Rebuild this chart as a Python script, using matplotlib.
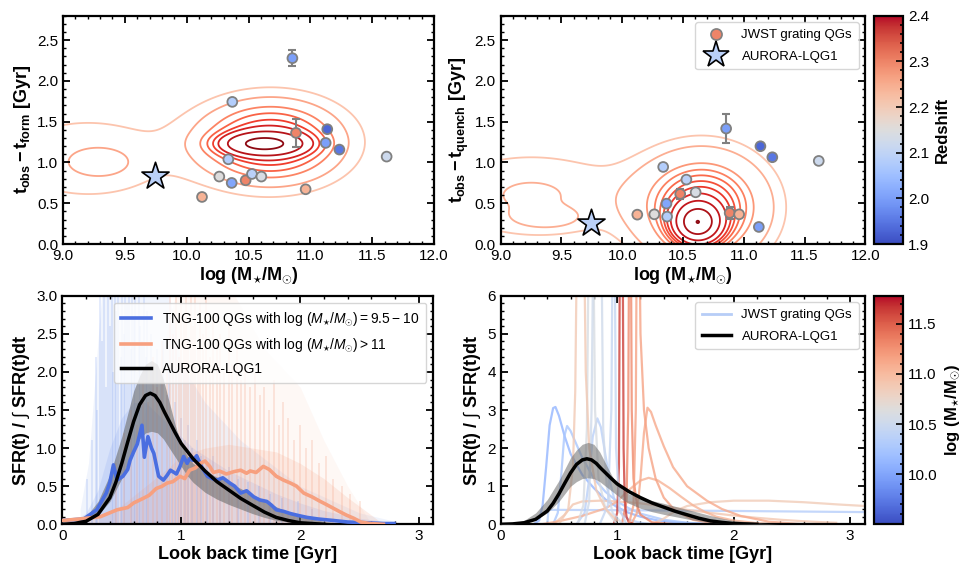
import numpy as np
import matplotlib
matplotlib.use('Agg')
import matplotlib.pyplot as plt
from matplotlib.ticker import MultipleLocator
from matplotlib.lines import Line2D
from matplotlib.colors import Normalize

plt.rcParams['font.family'] = ['Liberation Sans', 'DejaVu Sans']
plt.rcParams['mathtext.fontset'] = 'custom'
plt.rcParams['mathtext.rm'] = 'Liberation Sans'
plt.rcParams['mathtext.it'] = 'Liberation Sans:italic'
plt.rcParams['mathtext.bf'] = 'Liberation Sans:bold'
plt.rcParams['axes.linewidth'] = 1.6

# ---------------- data: JWST grating QGs ----------------
logmass = [10.855, 10.369, 10.884, 11.137, 11.124, 11.235, 11.617, 10.337,
           10.264, 10.364, 10.477, 10.528, 10.604, 10.962, 10.124]
redshift = [2.00, 2.08, 2.30, 1.93, 2.00, 1.95, 2.12, 2.08,
            2.15, 2.01, 2.30, 2.09, 2.14, 2.24, 2.24]
t_form = [2.279, 1.743, 1.363, 1.408, 1.240, 1.158, 1.072, 1.039,
          0.827, 0.749, 0.781, 0.859, 0.827, 0.671, 0.577]
t_form_err = [0.10, 0.0, 0.17, 0.0, 0.0, 0.0, 0.0, 0.0,
              0.0, 0.0, 0.0, 0.0, 0.0, 0.0, 0.0]
t_quench = [1.416, 0.336, 0.381, 1.199, 0.209, 1.064, 1.019, 0.945,
            0.364, 0.495, 0.614, 0.790, 0.634, 0.364, 0.360]
t_quench_err = [0.18, 0.0, 0.07, 0.0, 0.0, 0.0, 0.0, 0.04,
                0.0, 0.0, 0.06, 0.0, 0.0, 0.0, 0.0]

# AURORA-LQG1
aurora_logmass = 9.74
aurora_z = 2.09
aurora_t_form, aurora_t_form_err = 0.83, 0.05
aurora_t_quench, aurora_t_quench_err = 0.26, 0.03

# TNG-100 density (Gaussian mixture): cx, cy, sx, sy, weight
tng_form_blobs = [(10.62, 1.23, 0.20, 0.085, 1.00),
                  (10.68, 1.25, 0.34, 0.30, 0.50),
                  (9.30, 1.00, 0.16, 0.115, 0.09),
                  (9.20, 1.05, 0.55, 0.42, 0.07)]
tng_quench_blobs = [(10.62, 0.26, 0.12, 0.16, 1.00),
                    (10.66, 0.45, 0.33, 0.42, 0.45),
                    (9.38, 0.31, 0.18, 0.085, 0.07),
                    (9.25, 0.60, 0.60, 0.40, 0.10)]
# contour levels: density at these read-off points (x = 10.62)
form_level_y = [1.30, 1.38, 1.45, 1.52, 1.60, 1.68, 1.80, 1.92]
quench_level_y = [0.43, 0.53, 0.62, 0.70, 0.77, 0.84, 0.91, 0.99, 1.20, 1.33]
level_x = 10.62

# ---------------- data: SFHs ----------------
aurora_t = [0.0, 0.1, 0.2, 0.3, 0.4, 0.45, 0.5, 0.55, 0.6, 0.65, 0.7, 0.74, 0.78,
            0.82, 0.86, 0.9, 0.95, 1.0, 1.1, 1.2, 1.3, 1.4, 1.5, 1.6, 1.7, 1.8, 1.9, 2.0, 2.2]
aurora_sfh = [0.0, 0.01, 0.04, 0.13, 0.35, 0.55, 0.8, 1.08, 1.35, 1.57, 1.69, 1.72, 1.69,
              1.6, 1.47, 1.35, 1.2, 1.06, 0.86, 0.7, 0.56, 0.45, 0.34, 0.25, 0.16, 0.09, 0.05, 0.02, 0.0]
band_t = [0.0, 0.1, 0.2, 0.3, 0.4, 0.5, 0.55, 0.6, 0.65, 0.7, 0.75, 0.8, 0.85, 0.9, 0.95,
          1.0, 1.05, 1.1, 1.2, 1.3, 1.4, 1.5, 1.6, 1.7, 1.8, 1.9, 2.0, 2.2, 2.4]
band_hi = [0.01, 0.03, 0.1, 0.3, 0.65, 1.15, 1.45, 1.75, 1.95, 2.1, 2.15, 2.1, 1.9, 1.6, 1.3,
           1.05, 0.9, 0.8, 0.7, 0.62, 0.55, 0.47, 0.39, 0.31, 0.23, 0.16, 0.1, 0.04, 0.0]
band_lo = [0.0, 0.01, 0.04, 0.12, 0.3, 0.6, 0.8, 1.0, 1.12, 1.2, 1.22, 1.2, 1.12, 1.0, 0.88,
           0.76, 0.64, 0.55, 0.42, 0.33, 0.26, 0.2, 0.14, 0.09, 0.05, 0.03, 0.01, 0.0, 0.0]

tng_low_t = [0.0, 0.18, 0.29, 0.37, 0.40, 0.43, 0.46, 0.51, 0.55, 0.57, 0.60, 0.63, 0.67,
             0.69, 0.72, 0.75, 0.77, 0.81, 0.85, 0.88, 0.91, 0.96, 0.99, 1.02, 1.05, 1.07,
             1.10, 1.13, 1.17, 1.22, 1.26, 1.30, 1.35, 1.41, 1.45, 1.50, 1.55, 1.61, 1.66,
             1.72, 1.76, 1.80, 1.86, 1.92, 2.00, 2.06, 2.15, 2.28, 2.40, 2.56, 2.70, 2.79]
tng_low = [0.05, 0.07, 0.19, 0.41, 0.55, 0.78, 0.58, 0.63, 0.72, 0.84, 0.95, 1.05, 1.30,
           0.88, 1.15, 1.00, 0.93, 0.63, 0.58, 0.64, 0.71, 0.66, 0.76, 0.89, 0.80, 0.86,
           0.84, 0.90, 0.76, 0.63, 0.60, 0.58, 0.61, 0.54, 0.50, 0.41, 0.44, 0.36, 0.32,
           0.30, 0.25, 0.19, 0.17, 0.14, 0.11, 0.09, 0.07, 0.05, 0.03, 0.02, 0.01, 0.01]
tng_high_t = [0.0, 0.15, 0.32, 0.46, 0.55, 0.60, 0.68, 0.73, 0.79, 0.84, 0.88, 0.93, 0.99,
              1.03, 1.07, 1.12, 1.16, 1.20, 1.24, 1.27, 1.32, 1.38, 1.44, 1.50, 1.55, 1.58,
              1.63, 1.69, 1.74, 1.80, 1.86, 1.92, 1.97, 2.03, 2.10, 2.17, 2.22, 2.28, 2.34,
              2.39, 2.45, 2.51, 2.59, 2.70]
tng_high = [0.05, 0.07, 0.10, 0.19, 0.22, 0.28, 0.34, 0.38, 0.47, 0.50, 0.54, 0.56, 0.63,
            0.60, 0.71, 0.74, 0.80, 0.83, 0.76, 0.68, 0.70, 0.66, 0.69, 0.71, 0.67, 0.70,
            0.68, 0.76, 0.72, 0.63, 0.58, 0.54, 0.50, 0.41, 0.36, 0.30, 0.26, 0.21, 0.16,
            0.12, 0.08, 0.03, 0.01, 0.0]

# dense part of the individual TNG histories
dense_low_t = [0.0, 0.1, 0.2, 0.3, 0.4, 0.5, 0.6, 0.7, 0.8, 0.9, 1.0, 1.1, 1.2, 1.4, 1.6,
               1.8, 2.0, 2.2, 2.5, 2.8, 2.9]
dense_low = [0.03, 0.05, 0.15, 0.45, 1.0, 1.4, 1.6, 1.6, 1.45, 1.3, 1.15, 1.0, 0.9, 0.7, 0.55,
             0.4, 0.28, 0.18, 0.08, 0.02, 0.0]
dense_high_t = [0.0, 0.3, 0.5, 0.7, 0.9, 1.0, 1.2, 1.4, 1.6, 1.8, 2.0, 2.2, 2.4, 2.6, 2.7]
dense_high = [0.03, 0.08, 0.25, 0.5, 0.75, 0.9, 1.0, 1.05, 1.0, 0.95, 0.8, 0.6, 0.35, 0.12, 0.0]
# outer reach of the individual TNG histories
reach_low_t = [0.15, 0.22, 0.28, 0.33, 0.90, 1.00, 1.20, 1.50, 2.00, 2.50, 2.90]
reach_low = [0.2, 0.8, 2.0, 3.0, 3.0, 2.1, 1.6, 1.1, 0.5, 0.15, 0.0]
reach_high_t = [0.40, 0.60, 0.80, 0.95, 1.45, 1.70, 2.00, 2.20, 2.40, 2.60]
reach_high = [0.3, 1.0, 2.0, 3.0, 3.0, 2.3, 1.8, 1.1, 0.5, 0.0]
# bursts of individual TNG histories (spikes)
spike_low_t = [0.21, 0.25, 0.28, 0.295, 0.32, 0.335, 0.35, 0.37, 0.385, 0.40, 0.415, 0.43,
               0.445, 0.455, 0.47, 0.49, 0.50, 0.515, 0.53, 0.545, 0.56, 0.575, 0.585, 0.60,
               0.615, 0.63, 0.645, 0.655, 0.67, 0.685, 0.70, 0.715, 0.73, 0.745, 0.76, 0.78,
               0.795, 0.81, 0.83, 0.845, 0.86, 0.88, 0.90, 0.925, 0.95, 0.975, 1.00, 1.03,
               1.06, 1.09, 1.13, 1.17, 1.22, 1.27, 1.33, 1.40, 1.48, 1.56, 1.65, 1.75, 1.85,
               1.98, 2.10]
spike_low = [0.6, 1.1, 2.2, 1.5, 3.1, 2.4, 3.1, 1.8, 3.1, 2.6, 3.1, 2.0, 3.1, 2.8, 3.1,
             2.2, 3.1, 2.5, 3.1, 2.9, 3.1, 2.3, 3.1, 2.7, 3.1, 2.0, 3.1, 2.6, 2.4, 3.1, 2.2,
             2.8, 1.9, 2.5, 2.1, 1.7, 2.3, 1.6, 1.9, 2.4, 1.5, 1.7, 2.1, 1.3, 1.6, 1.2, 1.4,
             1.1, 1.3, 1.0, 1.1, 0.9, 0.8, 0.9, 0.7, 0.75, 0.6, 0.55, 0.5, 0.4, 0.35, 0.3,
             0.2]
spike_high_t = [0.45, 0.52, 0.58, 0.63, 0.68, 0.72, 0.76, 0.80, 0.84, 0.88, 0.905, 0.93,
                0.96, 0.985, 1.00, 1.02, 1.04, 1.06, 1.08, 1.10, 1.12, 1.14, 1.16, 1.18, 1.21,
                1.24, 1.27, 1.30, 1.33, 1.36, 1.40, 1.43, 1.47, 1.50, 1.54, 1.58, 1.62, 1.66,
                1.70, 1.74, 1.78, 1.82, 1.86, 1.90, 1.95, 2.00, 2.05, 2.10, 2.16, 2.22, 2.28,
                2.35, 2.42, 2.50]
spike_high = [0.8, 1.2, 1.5, 1.3, 1.9, 1.6, 2.2, 1.8, 2.4, 2.0, 3.1, 2.5, 3.1, 2.2, 3.1,
              2.7, 3.1, 2.4, 3.1, 2.6, 3.1, 2.3, 2.9, 2.5, 3.1, 2.2, 2.7, 2.4, 2.5, 2.0, 2.6,
              2.1, 2.3, 1.9, 2.1, 1.8, 2.0, 1.7, 1.8, 1.5, 1.9, 1.3, 1.6, 1.4, 1.1, 1.3, 1.0,
              1.1, 0.8, 0.9, 0.6, 0.5, 0.4, 0.3]

# JWST grating QG SFHs (right panel): stellar mass, times, SFR
jwst_sfh_logmass = [10.12, 10.26, 10.37, 10.34, 10.86, 10.90, 11.05, 11.12,
                    11.30, 11.62, 11.15, 10.60, 10.53, 10.45, 10.88]
jwst_sfh_t = [
    [0.28, 0.33, 0.36, 0.39, 0.42, 0.45, 0.47, 0.50, 0.55, 0.60, 0.70, 0.80, 0.90, 1.00, 1.10, 1.20, 1.35, 1.50, 1.70, 2.00],
    [0.45, 0.49, 0.52, 0.545, 0.57, 0.60, 0.65, 0.70, 0.80, 0.90, 1.00, 1.10, 1.20, 1.40, 1.60, 1.80],
    [0.65, 0.72, 0.76, 0.79, 0.83, 0.86, 0.90, 0.94, 0.98, 1.03, 1.10, 1.20, 1.30],
    [0.0, 0.40, 0.41, 1.0, 2.0, 3.13],
    [1.30, 1.40, 1.50, 1.60, 1.80, 2.00, 2.30, 2.60, 2.90, 3.13],
    [0.45, 0.55, 0.62, 0.70, 0.85, 1.00, 1.20, 1.40, 1.60, 1.80, 2.00, 2.20, 2.40, 2.60, 2.80, 2.88],
    [0.35, 0.50, 0.70, 0.90, 1.00, 1.10, 1.20, 1.27, 1.35, 1.45, 1.55, 1.65, 1.75, 1.85, 2.00, 2.20, 2.40],
    [1.12, 1.17, 1.20, 1.23, 1.26, 1.29, 1.33, 1.40, 1.48, 1.60, 1.77, 1.90, 2.06, 2.30, 2.60],
    [1.04, 1.08, 1.095, 1.105, 1.115, 1.125, 1.14, 1.17, 1.20, 1.30, 1.50],
    [0.97, 1.00, 1.015, 1.025, 1.045, 1.055, 1.065, 1.08, 1.10, 1.15],
    [1.10, 1.14, 1.16, 1.17, 1.185, 1.20, 1.23, 1.27, 1.33, 1.40, 1.50, 1.65, 1.80, 2.00],
    [0.66, 0.71, 0.74, 0.76, 0.79, 0.81, 0.84, 0.90, 1.00],
    [0.72, 0.76, 0.78, 0.80, 0.86, 0.88, 0.91, 0.96, 1.05],
    [0.85, 0.92, 0.95, 0.965, 0.975, 0.99, 1.02, 1.08],
    [0.50, 0.58, 0.62, 0.64, 0.66, 0.71, 0.73, 0.76, 0.82, 0.90, 1.00],
]
jwst_sfh_v = [
    [0.0, 0.1, 0.5, 1.5, 2.6, 3.05, 3.08, 2.85, 2.3, 1.85, 1.3, 0.95, 0.65, 0.45, 0.3, 0.2, 0.1, 0.05, 0.02, 0.0],
    [0.0, 0.3, 1.3, 2.3, 2.58, 2.45, 2.1, 1.75, 1.2, 0.85, 0.6, 0.42, 0.28, 0.12, 0.04, 0.0],
    [0.0, 0.3, 1.2, 2.3, 2.78, 2.55, 1.8, 1.1, 0.6, 0.3, 0.12, 0.04, 0.0],
    [0.0, 0.0, 0.38, 0.37, 0.35, 0.32],
    [0.0, 0.15, 0.35, 0.48, 0.58, 0.62, 0.62, 0.58, 0.52, 0.48],
    [0.0, 0.25, 0.52, 0.60, 0.62, 0.60, 0.55, 0.47, 0.38, 0.30, 0.23, 0.17, 0.12, 0.08, 0.05, 0.04],
    [0.0, 0.08, 0.22, 0.42, 0.60, 0.90, 1.15, 1.22, 1.15, 0.95, 0.72, 0.50, 0.33, 0.20, 0.10, 0.03, 0.0],
    [0.0, 0.3, 1.2, 2.4, 3.06, 2.95, 2.6, 2.05, 1.5, 1.0, 0.62, 0.4, 0.22, 0.07, 0.0],
    [0.0, 0.6, 3.0, 9.0, 9.0, 3.0, 1.2, 0.5, 0.25, 0.05, 0.0],
    [0.0, 0.3, 1.5, 9.0, 9.0, 2.0, 0.6, 0.2, 0.05, 0.0],
    [0.0, 0.5, 3.0, 9.0, 9.0, 5.0, 3.0, 2.0, 1.2, 0.7, 0.35, 0.12, 0.04, 0.0],
    [0.0, 0.5, 2.5, 9.0, 9.0, 3.0, 1.2, 0.4, 0.0],
    [0.0, 0.6, 3.0, 9.0, 9.0, 2.5, 1.0, 0.3, 0.0],
    [0.0, 0.5, 3.0, 9.0, 9.0, 2.0, 0.4, 0.0],
    [0.0, 0.4, 1.5, 3.5, 9.0, 9.0, 4.0, 2.0, 0.9, 0.4, 0.1],
]

# ---------------- figure ----------------
W, H = 971, 568
fig = plt.figure(figsize=(W / 100, H / 100), dpi=100)


def add_ax(l, t, r, b):
    return fig.add_axes([l / W, 1 - b / H, (r - l) / W, (b - t) / H])


ax1 = add_ax(63, 15.7, 434, 244)
ax2 = add_ax(500.7, 15.7, 865.3, 244)
cax1 = add_ax(874, 15.7, 903.3, 244)
ax3 = add_ax(62.3, 295.7, 433.3, 524.3)
ax4 = add_ax(500.7, 295.7, 865.3, 524.3)
cax2 = add_ax(874, 295.7, 903.3, 524.3)

cmap = plt.get_cmap('coolwarm')
znorm = Normalize(1.9, 2.4)
mnorm = Normalize(9.5, 11.78)

LAB = 13
TCK = 11
MLAB = r'$\mathbf{log\ (M}_{\star}\mathbf{/M}_{\odot}\mathbf{)}$'
SFRLAB = r'$\mathbf{SFR(t)\ /\ }\int\mathbf{\ SFR(t)dt}$'


def style(ax, xmaj, xmin, ymaj, ymin):
    ax.xaxis.set_major_locator(MultipleLocator(xmaj))
    ax.xaxis.set_minor_locator(MultipleLocator(xmin))
    ax.yaxis.set_major_locator(MultipleLocator(ymaj))
    ax.yaxis.set_minor_locator(MultipleLocator(ymin))
    ax.tick_params(which='both', direction='in', top=True, right=True, labelsize=TCK)
    ax.tick_params(which='major', length=5, width=1.3)
    ax.tick_params(which='minor', length=2.5, width=1.0)


# --- top panels
xg = np.linspace(8.8, 12.2, 500)
yg = np.linspace(-0.5, 3.0, 500)
XG, YG = np.meshgrid(xg, yg)


def mixture(X, Y, blobs):
    Z = np.zeros_like(np.asarray(X, dtype=float))
    for cx, cy, sx, sy, w in blobs:
        Z = Z + w * np.exp(-0.5 * (((X - cx) / sx) ** 2 + ((Y - cy) / sy) ** 2))
    return Z


for ax, blobs, lev_y, extra_dot, yv, yerr, ay, ayerr, ylabel in [
        (ax1, tng_form_blobs, form_level_y, False, t_form, t_form_err, aurora_t_form, aurora_t_form_err,
         r'$\mathbf{t_{obs}-t_{form}}$ [Gyr]'),
        (ax2, tng_quench_blobs, quench_level_y, True, t_quench, t_quench_err, aurora_t_quench,
         aurora_t_quench_err, r'$\mathbf{t_{obs}-t_{quench}}$ [Gyr]')]:
    Z = mixture(XG, YG, blobs)
    levels = sorted(float(mixture(level_x, y, blobs)) for y in lev_y)
    if extra_dot:
        levels.append(Z.max() * 0.997)
    cols = plt.get_cmap('Reds')(np.linspace(0.22, 0.92, len(levels)))
    ax.contour(XG, YG, Z, levels=levels, colors=cols, linewidths=1.3, zorder=1)
    ax.errorbar(logmass, yv, yerr=yerr, fmt='none', ecolor='gray', elinewidth=1.5,
                capsize=3, capthick=1.5, zorder=3)
    ax.scatter(logmass, yv, c=redshift, cmap=cmap, norm=znorm, s=50,
               edgecolors='gray', linewidths=1.3, zorder=4)
    ax.errorbar([aurora_logmass], [ay], yerr=[ayerr], fmt='none', ecolor='gray',
                elinewidth=1.2, capsize=2, zorder=5)
    ax.scatter([aurora_logmass], [ay], marker='*', s=420, c=[cmap(znorm(aurora_z))],
               edgecolors='black', linewidths=1.2, zorder=6)
    ax.set_xlim(9, 12)
    ax.set_ylim(0, 2.8)
    style(ax, 0.5, 0.1, 0.5, 0.1)
    ax.set_xlabel(MLAB, fontsize=LAB, labelpad=2)
    ax.set_ylabel(ylabel, fontsize=LAB, fontweight='bold', labelpad=3)

leg_handles = [Line2D([], [], ls='none', marker='o', markersize=8, markerfacecolor=cmap(znorm(2.3)),
                      markeredgecolor='gray', markeredgewidth=1.2),
               Line2D([], [], ls='none', marker='*', markersize=20, markerfacecolor=cmap(znorm(aurora_z)),
                      markeredgecolor='black', markeredgewidth=1.2)]
ax2.legend(leg_handles, ['JWST grating QGs', 'AURORA-LQG1'], loc='upper right', fontsize=9.5,
           borderpad=0.5, handletextpad=0.8, labelspacing=0.7, handlelength=2.2)

sm1 = plt.cm.ScalarMappable(norm=znorm, cmap=cmap)
cb1 = fig.colorbar(sm1, cax=cax1)
cb1.set_ticks([1.9, 2.0, 2.1, 2.2, 2.3, 2.4])
cb1.ax.yaxis.set_minor_locator(MultipleLocator(0.02))
cb1.ax.tick_params(which='both', direction='in', labelsize=TCK, width=1.2)
cb1.ax.tick_params(which='major', length=5)
cb1.ax.tick_params(which='minor', length=2.5)
cb1.outline.set_linewidth(1.6)
cb1.set_label('Redshift', fontsize=12, fontweight='bold', labelpad=4)

# --- bottom left
low_c = '#4a6ee0'
high_c = '#f7a07f'
ax3.fill_between(reach_low_t, 0, reach_low, color='#8aa6ee', alpha=0.12, lw=0, zorder=1)
ax3.fill_between(reach_high_t, 0, reach_high, color='#f5a98c', alpha=0.08, lw=0, zorder=1)
ax3.fill_between(dense_low_t, 0, dense_low, color='#8aa6ee', alpha=0.2, lw=0, zorder=1)
ax3.fill_between(dense_high_t, 0, dense_high, color='#f5a98c', alpha=0.2, lw=0, zorder=1)
ax3.vlines(spike_low_t, 0, spike_low, color='#7d9ff2', alpha=0.25, lw=1.2, zorder=1)
ax3.vlines(spike_high_t, 0, spike_high, color='#f6a88a', alpha=0.3, lw=1.2, zorder=1)
ax3.fill_between(band_t, band_lo, band_hi, color='#6e6e6e', alpha=0.6, lw=0, zorder=2)
ax3.plot(tng_low_t, tng_low, color=low_c, lw=2.6, zorder=3,
         label=r'TNG-100 QGs with $\log\,(M_{\star}/M_{\odot}) = 9.5-10$')
ax3.plot(tng_high_t, tng_high, color=high_c, lw=2.6, zorder=3,
         label=r'TNG-100 QGs with $\log\,(M_{\star}/M_{\odot}) > 11$')
ax3.plot(aurora_t, aurora_sfh, color='black', lw=2.5, zorder=4, label='AURORA-LQG1')
ax3.set_xlim(0, 3.12)
ax3.set_ylim(0, 3)
style(ax3, 1, 0.2, 0.5, 0.1)
ax3.legend(loc='upper right', fontsize=10, borderpad=0.5, labelspacing=0.6, handlelength=2.2)
ax3.set_xlabel('Look back time [Gyr]', fontsize=LAB, fontweight='bold', labelpad=2)
ax3.set_ylabel(SFRLAB, fontsize=LAB, labelpad=3)

# --- bottom right
for m, tt, vv in zip(jwst_sfh_logmass, jwst_sfh_t, jwst_sfh_v):
    ax4.plot(tt, vv, color=cmap(mnorm(m)), lw=1.6, alpha=0.8, zorder=2)
ax4.fill_between(band_t, band_lo, band_hi, color='#6e6e6e', alpha=0.55, lw=0, zorder=3)
ax4.plot(aurora_t, aurora_sfh, color='black', lw=2.5, zorder=4)
ax4.set_xlim(0, 3.13)
ax4.set_ylim(0, 6)
style(ax4, 1, 0.2, 1, 0.2)
ax4.legend([Line2D([], [], color='#b7cdf7', lw=2), Line2D([], [], color='black', lw=2.5)],
           ['JWST grating QGs', 'AURORA-LQG1'], loc='upper right', fontsize=9.5,
           borderpad=0.5, labelspacing=0.7, handlelength=2.2)
ax4.set_xlabel('Look back time [Gyr]', fontsize=LAB, fontweight='bold', labelpad=2)
ax4.set_ylabel(SFRLAB, fontsize=LAB, labelpad=3)

sm2 = plt.cm.ScalarMappable(norm=mnorm, cmap=cmap)
cb2 = fig.colorbar(sm2, cax=cax2)
cb2.set_ticks([10.0, 10.5, 11.0, 11.5])
cb2.ax.yaxis.set_minor_locator(MultipleLocator(0.1))
cb2.ax.tick_params(which='both', direction='in', labelsize=TCK, width=1.2)
cb2.ax.tick_params(which='major', length=5)
cb2.ax.tick_params(which='minor', length=2.5)
cb2.outline.set_linewidth(1.6)
cb2.set_label(MLAB, fontsize=12, labelpad=4)

fig.savefig('out.png', dpi=100)
